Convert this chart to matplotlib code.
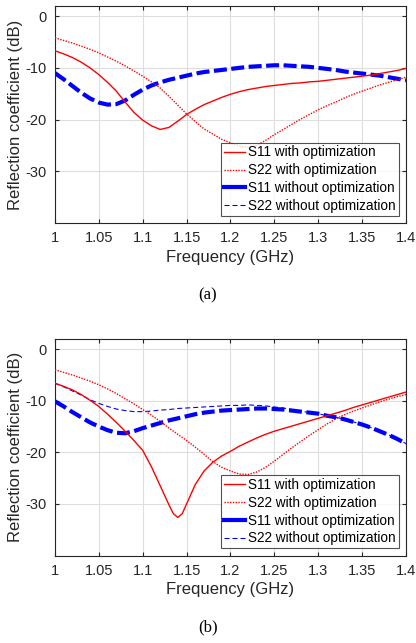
import matplotlib
matplotlib.use('Agg')
import matplotlib.pyplot as plt
from matplotlib.lines import Line2D

plt.rcParams['font.family'] = ['Liberation Sans', 'DejaVu Sans']
plt.rcParams['axes.unicode_minus'] = False

# frequency grid (GHz), 1.00 ... 1.40 step 0.01
freq = [1.00, 1.01, 1.02, 1.03, 1.04, 1.05, 1.06, 1.07, 1.08, 1.09,
        1.10, 1.11, 1.12, 1.13, 1.14, 1.15, 1.16, 1.17, 1.18, 1.19,
        1.20, 1.21, 1.22, 1.23, 1.24, 1.25, 1.26, 1.27, 1.28, 1.29,
        1.30, 1.31, 1.32, 1.33, 1.34, 1.35, 1.36, 1.37, 1.38, 1.39, 1.40]

# (a)
a_s11_opt = [-6.7, -7.3, -8.0, -8.9, -10.0, -11.3, -12.8, -14.5, -16.6, -18.6,
             -20.1, -21.2, -21.9, -21.5, -20.3, -19.0, -18.0, -17.1, -16.4, -15.7,
             -15.1, -14.6, -14.2, -13.9, -13.6, -13.4, -13.2, -13.0, -12.9, -12.7,
             -12.6, -12.4, -12.2, -12.0, -11.8, -11.6, -11.4, -11.1, -10.8, -10.5, -10.1]
a_s22_opt = [-4.2, -4.7, -5.2, -5.8, -6.4, -7.1, -7.9, -8.7, -9.6, -10.6,
             -11.6, -12.7, -13.9, -15.5, -17.2, -18.9, -20.4, -21.8, -22.8, -23.8,
             -24.5, -25.1, -25.4, -25.0, -24.0, -22.9, -21.9, -20.9, -19.9, -19.0,
             -18.1, -17.3, -16.6, -15.8, -15.1, -14.5, -13.9, -13.3, -12.8, -12.3, -11.8]
a_s11_noopt = [-11.0, -12.2, -13.5, -14.8, -15.9, -16.7, -17.1, -17.0, -16.3, -15.2,
               -14.2, -13.4, -12.8, -12.3, -11.9, -11.5, -11.1, -10.8, -10.6, -10.4,
               -10.2, -10.0, -9.8, -9.7, -9.6, -9.5, -9.5, -9.6, -9.7, -9.8,
               -10.0, -10.2, -10.4, -10.7, -10.9, -11.1, -11.3, -11.5, -11.8, -12.1, -12.4]
a_s22_noopt = list(a_s11_noopt)  # lies under S11 in panel (a)

# (b)
freq_b11 = [1.00, 1.01, 1.02, 1.03, 1.04, 1.05, 1.06, 1.07, 1.08, 1.09,
            1.10, 1.11, 1.12, 1.13, 1.135, 1.14, 1.145, 1.15, 1.16, 1.17, 1.18, 1.19,
            1.20, 1.21, 1.22, 1.23, 1.24, 1.25, 1.26, 1.27, 1.28, 1.29,
            1.30, 1.31, 1.32, 1.33, 1.34, 1.35, 1.36, 1.37, 1.38, 1.39, 1.40]
b_s11_opt = [-6.6, -7.2, -7.9, -8.8, -9.9, -11.1, -12.6, -14.2, -15.9, -17.7,
             -19.6, -22.8, -26.5, -30.2, -31.9, -32.6, -31.9, -30.0, -26.2, -23.6, -21.9, -20.7,
             -19.8, -18.8, -18.0, -17.2, -16.5, -15.9, -15.4, -14.9, -14.4, -13.9,
             -13.4, -12.9, -12.4, -11.9, -11.3, -10.8, -10.3, -9.8, -9.3, -8.8, -8.3]
b_s22_opt = [-4.0, -4.5, -5.0, -5.6, -6.2, -6.9, -7.7, -8.6, -9.6, -10.6,
             -11.7, -12.8, -14.0, -15.3, -16.5, -17.7, -19.0, -20.4, -21.8, -22.9,
             -23.6, -24.2, -24.3, -23.8, -22.9, -21.7, -20.4, -19.1, -17.9, -16.7,
             -15.6, -14.5, -13.5, -12.7, -12.0, -11.4, -10.8, -10.2, -9.7, -9.2, -8.8]
b_s11_noopt = [-10.1, -11.1, -12.2, -13.2, -14.2, -15.0, -15.7, -16.2, -16.3, -15.9,
               -15.3, -14.8, -14.3, -13.8, -13.4, -13.0, -12.6, -12.3, -12.1, -11.9,
               -11.8, -11.7, -11.6, -11.5, -11.5, -11.6, -11.7, -11.9, -12.1, -12.3,
               -12.5, -12.9, -13.2, -13.6, -14.1, -14.6, -15.2, -15.9, -16.6, -17.4, -18.3]
b_s22_noopt = [-6.6, -7.3, -8.1, -8.9, -9.8, -10.5, -11.1, -11.6, -11.9, -12.1,
               -12.1, -12.0, -11.8, -11.7, -11.5, -11.4, -11.3, -11.2, -11.1, -11.0,
               -10.9, -10.9, -10.8, -10.9, -11.0, -11.2, -11.4, -11.7, -12.0, -12.3,
               -12.5, -12.9, -13.2, -13.6, -14.1, -14.6, -15.2, -15.9, -16.6, -17.4, -18.3]

xticks = [1, 1.05, 1.1, 1.15, 1.2, 1.25, 1.3, 1.35, 1.4]
xticklabels = ['1', '1.05', '1.1', '1.15', '1.2', '1.25', '1.3', '1.35', '1.4']
yticks = [0, -10, -20, -30]
labels = ['S11 with optimization', 'S22 with optimization',
          'S11 without optimization', 'S22 without optimization']

fig = plt.figure(figsize=(4.16, 6.43), dpi=100)
ax_a = fig.add_axes([0.132, 0.653, 0.844, 0.338])
ax_b = fig.add_axes([0.132, 0.136, 0.844, 0.337])

dark = (0.15, 0.15, 0.15)
thick_lw = 3.0
thin_lw = 0.8
thick_dash = (3.1, 1.1)
thin_dash = (0, (4.5, 2.7))

# legend proxies (look of the MATLAB legend)
handles = [
    Line2D([], [], color='red', lw=1.0),
    Line2D([], [], color='red', lw=1.0, ls=(0, (1, 1))),
    Line2D([], [], color='blue', lw=thick_lw),
    Line2D([], [], color='blue', lw=thin_lw, ls=thin_dash),
]


def draw(ax, x11, s11, s22, n11, n22, letter, ypos, dash22):
    ax.plot(x11, s11, color='red', lw=1.0, zorder=3)
    ax.plot(freq, s22, color='red', lw=1.0, ls=(0, (1, 1)), zorder=3)
    ax.plot(freq, n11, color='blue', lw=thick_lw, ls=(0, thick_dash), zorder=2.5)
    ax.plot(freq, n22, color='blue', lw=thin_lw, ls=dash22, zorder=2)
    ax.set_xlim(1, 1.4)
    ax.set_ylim(-40, 2)
    ax.set_xticks(xticks)
    ax.set_xticklabels(xticklabels)
    ax.set_yticks(yticks)
    ax.grid(True, color=(0.87, 0.87, 0.87), lw=0.8)
    ax.set_axisbelow(True)
    ax.tick_params(direction='in', length=3, colors=dark, labelsize=10.5,
                   top=True, right=True, pad=6)
    for s in ax.spines.values():
        s.set_color(dark)
        s.set_linewidth(0.8)
    ax.set_xlabel('Frequency (GHz)', fontsize=12, color=dark, labelpad=3)
    ax.set_ylabel('Reflection coefficient (dB)', fontsize=12, color=dark, labelpad=2)
    leg = ax.legend(handles, labels, loc='lower right', fontsize=9.8, frameon=True,
                    fancybox=False, borderaxespad=0.55, handlelength=1.6,
                    handletextpad=0.2, labelspacing=0.28, borderpad=0.2)
    leg.get_frame().set_edgecolor(dark)
    leg.get_frame().set_linewidth(0.8)
    fig.text(0.5, ypos, letter, ha='center', va='center', fontsize=12,
             family=['Liberation Serif', 'DejaVu Serif'])


# in (a) S22 without optimization coincides with S11 and is hidden under it:
# give it the same dash pattern as the thick line (in points)
same_dash = (0, (thick_dash[0] * thick_lw / thin_lw, thick_dash[1] * thick_lw / thin_lw))
draw(ax_a, freq, a_s11_opt, a_s22_opt, a_s11_noopt, a_s22_noopt, '(a)', 1 - 295 / 643, same_dash)
draw(ax_b, freq_b11, b_s11_opt, b_s22_opt, b_s11_noopt, b_s22_noopt, '(b)', 1 - 627 / 643,
     thin_dash)

fig.savefig('out.png', dpi=100)
